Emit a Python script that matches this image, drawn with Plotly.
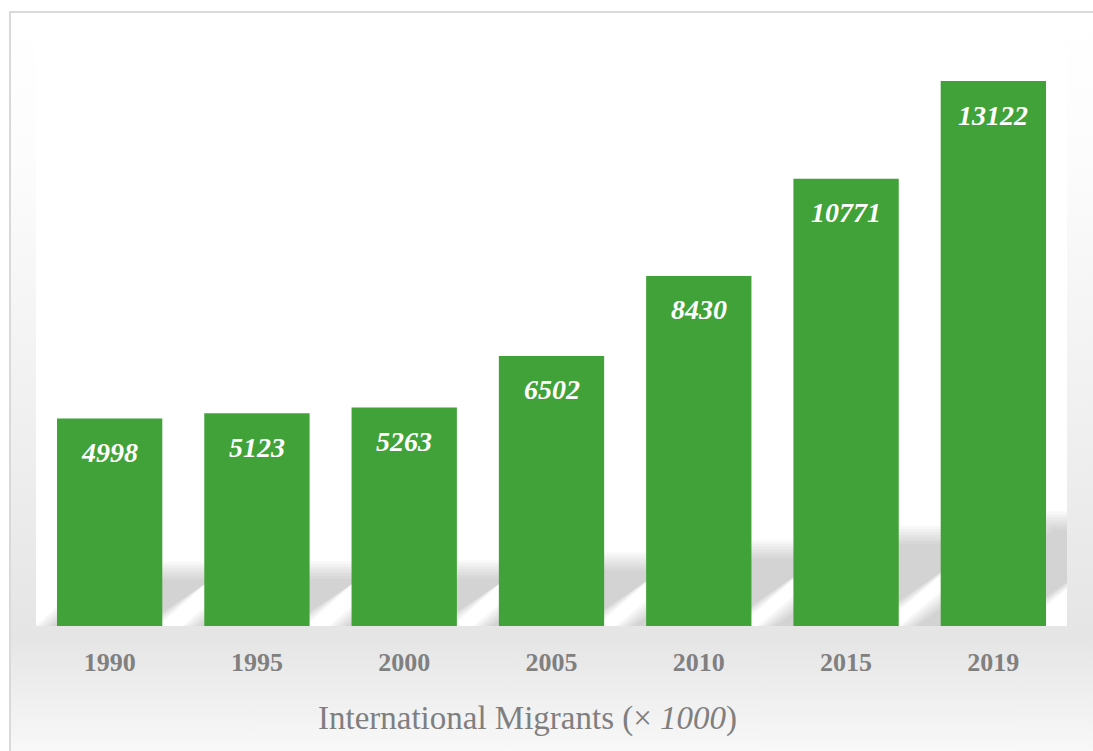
import base64
import plotly.graph_objects as go

# ---- data ----
years = ["1990", "1995", "2000", "2005", "2010", "2015", "2019"]
migrants = [4998, 5123, 5263, 6502, 8430, 10771, 13122]
axis_title = "International Migrants (× <i>1000</i>)"

# ---- layout geometry ----
W, H = 1093, 751
ML, MR, MT, MB = 36, 26, 45, 125
PW, PH = W - ML - MR, H - MT - MB
YMAX = 13990
BAR_W = 0.715
FONT = "Liberation Serif"

idx = list(range(len(years)))

fig = go.Figure()
fig.add_trace(go.Bar(
    x=idx, y=migrants, width=BAR_W,
    marker=dict(color="#40A238", line=dict(width=0)),
    hoverinfo="skip",
))

# data labels
for i, v in zip(idx, migrants):
    fig.add_annotation(
        x=i, y=v, xref="x", yref="y", text=str(v), showarrow=False,
        yanchor="middle", yshift=-34,
        font=dict(family=FONT, size=28, color="white", weight="bold", style="italic"),
    )

shapes = []
# white plot area (over the background image)
shapes.append(dict(type="rect", xref="paper", yref="paper", x0=0, x1=1, y0=0, y1=1,
                   fillcolor="white", line=dict(width=0), layer="below"))

# perspective shadows (decorative, derived from the data)
px_y = PH / YMAX
px_x = PW / len(years)
for i, v in zip(idx, migrants):
    hpx = v * px_y
    sh = 24 + 0.15 * hpx
    inset = 0.06 * hpx
    skew = 1.3 * sh
    for e in (-9, -6, -3, 0, 3, 6, 9):
        xl = i - BAR_W / 2 - (inset + e) / px_x
        xr = i + BAR_W / 2 - (inset - e) / px_x
        top = (sh + e) / px_y
        dx = skew / px_x
        path = f"M {xl} 0 L {xr} 0 L {xr + dx} {top} L {xl + dx} {top} Z"
        shapes.append(dict(type="path", path=path, xref="x", yref="y",
                           fillcolor="rgba(120,120,120,0.055)", line=dict(width=0),
                           layer="below"))

# outer frame
fx0 = (10 - ML) / PW
fx1 = (W + 5 - ML) / PW
fy1 = (H - MB - 12) / PH
fy0 = (H - MB - (H + 5)) / PH
shapes.append(dict(type="rect", xref="paper", yref="paper", x0=fx0, x1=fx1, y0=fy0, y1=fy1,
                   line=dict(color="#d9d9d9", width=2), fillcolor="rgba(0,0,0,0)", layer="below"))

# background gradient image
svg = ('<svg xmlns="http://www.w3.org/2000/svg" width="100" height="100" preserveAspectRatio="none">'
       '<defs><linearGradient id="g" x1="0" y1="0" x2="0" y2="1">'
       '<stop offset="0" stop-color="#ffffff"/>'
       '<stop offset="0.2" stop-color="#fcfcfc"/>'
       '<stop offset="0.6" stop-color="#eeeeee"/>'
       '<stop offset="0.84" stop-color="#e5e5e5"/>'
       '<stop offset="1" stop-color="#f9f9f9"/>'
       '</linearGradient></defs><rect width="100" height="100" fill="url(#g)"/></svg>')
src = "data:image/svg+xml;base64," + base64.b64encode(svg.encode()).decode()
images = [dict(source=src, xref="paper", yref="paper", x=fx0, y=fy1,
               sizex=fx1 - fx0, sizey=fy1 - fy0, sizing="stretch",
               xanchor="left", yanchor="top", layer="below")]

fig.add_annotation(
    x=(527 - ML) / PW, y=(H - MB - 719) / PH, xref="paper", yref="paper",
    text=axis_title, showarrow=False, xanchor="center", yanchor="middle",
    font=dict(family=FONT, size=33, color="#7f7f7f"),
)

fig.update_layout(
    width=W, height=H,
    margin=dict(l=ML, r=MR, t=MT, b=MB, pad=0),
    paper_bgcolor="white", plot_bgcolor="white",
    showlegend=False,
    shapes=shapes, images=images,
    xaxis=dict(range=[-0.5, len(years) - 0.5], tickvals=idx, ticktext=years,
               showgrid=False, zeroline=False, showline=False, ticks="",
               ticklabelstandoff=18,
               tickfont=dict(family=FONT, size=26, color="#808080", weight="bold")),
    yaxis=dict(range=[0, YMAX], showgrid=False, zeroline=False, showline=False,
               showticklabels=False, ticks=""),
)

fig.write_html("out.html", config={"displayModeBar": False},
               post_script="document.body.style.margin='0';document.body.style.overflow='hidden';")
